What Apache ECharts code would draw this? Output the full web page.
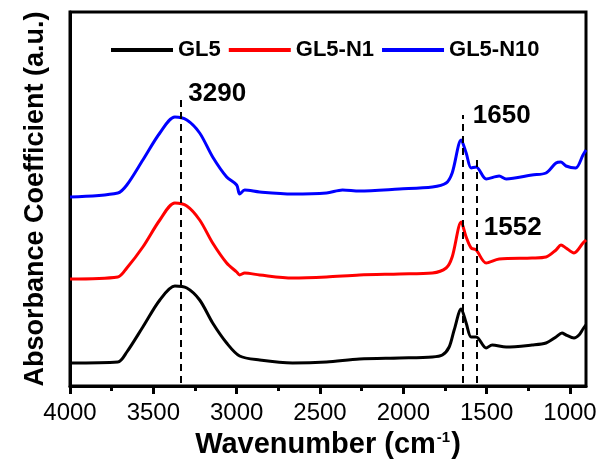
<!DOCTYPE html>
<html>
<head>
<meta charset="utf-8">
<script src="https://cdn.jsdelivr.net/npm/echarts@6/dist/echarts.min.js"></script>
<style>
  html, body { margin: 0; padding: 0; background: #fff; }
  #chart { width: 601px; height: 459px; }
</style>
</head>
<body>
<div id="chart"></div>
<script>
// wavenumber (cm-1) / absorbance (a.u., offset traces)
const gl5 = [
  [4000, 23], [3713, 24], [3659, 34], [3563, 59], [3461, 86], [3371, 100],
  [3299, 98], [3222, 86], [3144, 63], [3060, 43], [2982, 30], [2862, 26],
  [2665, 23], [2461, 24], [2263, 27], [2024, 28], [1826, 29], [1766, 31],
  [1725, 39], [1695, 56], [1653, 77], [1623, 63], [1593, 49], [1563, 49],
  [1503, 38], [1467, 41], [1383, 39], [1228, 41], [1144, 43], [1084, 49],
  [1048, 53], [1024, 51], [976, 48], [946, 51], [922, 57], [904, 61]
]
const gl5n1 = [
  [4000, 107], [3713, 109], [3659, 118], [3563, 139], [3461, 166], [3371, 183],
  [3299, 180], [3222, 166], [3144, 143], [3060, 123], [3000, 114], [2982, 111],
  [2952, 113], [2862, 111], [2665, 108], [2461, 109], [2263, 111], [2024, 112],
  [1826, 113], [1743, 118], [1707, 129], [1653, 164], [1623, 149], [1593, 138],
  [1563, 136], [1503, 123], [1425, 127], [1228, 128], [1144, 129], [1084, 136],
  [1054, 141], [1024, 138], [976, 133], [922, 143], [904, 146]
]
const gl5n10 = [
  [4000, 189], [3713, 193], [3659, 201], [3563, 226], [3461, 253], [3371, 269],
  [3299, 266], [3222, 253], [3144, 229], [3060, 209], [3000, 201], [2982, 192],
  [2952, 196], [2862, 194], [2665, 192], [2461, 193], [2365, 196], [2263, 195],
  [2024, 197], [1826, 199], [1743, 203], [1707, 213], [1653, 246], [1623, 233],
  [1593, 218], [1563, 219], [1503, 207], [1425, 210], [1383, 207], [1228, 211],
  [1144, 213], [1084, 223], [1054, 224], [1024, 220], [966, 218], [922, 231],
  [904, 236]
]

const seriesNames = ['GL5', 'GL5-N1', 'GL5-N10']
const seriesColors = ['#000000', '#ff0000', '#0000ff']

const majorTicks = [4000, 3500, 3000, 2500, 2000, 1500, 1000]
const minorTicks = [3750, 3250, 2750, 2250, 1750, 1250]

// dashed guide lines: [x, top of line]
const guideLines = [[3337, 289], [1641, 271], [1561, 229]]
// peak labels: [x, y, text]
const peakLabels = [[3290, 292, '3290'], [1583, 270, '1650'], [1517, 158, '1552']]

const chart = echarts.init(document.getElementById('chart'))

const font = 'Liberation Sans, Arial, sans-serif'

const xBase = {
  type: 'value',
  inverse: true,
  min: 904,
  max: 4000,
  splitLine: { show: false }
}

chart.setOption({
  animation: false,
  grid: {
    left: 70,
    right: 15,
    top: 12,
    bottom: 73,
    containLabel: false,
    outerBoundsMode: 'none',
    show: true,
    borderColor: '#000',
    borderWidth: 3
  },
  legend: {
    data: seriesNames,
    left: 106,
    top: 34,
    icon: 'rect',
    itemWidth: 62,
    itemHeight: 4,
    itemGap: 8,
    textStyle: { fontFamily: font, fontSize: 22, fontWeight: 'bold', color: '#000' }
  },
  xAxis: [
    Object.assign({}, xBase, {
      name: '{a|Wavenumber (cm}{s|-1}{a|)}',
      nameLocation: 'middle',
      nameGap: 35,
      nameTextStyle: {
        rich: {
          a: { fontFamily: font, fontSize: 29, fontWeight: 'bold', color: '#000' },
          s: { fontFamily: font, fontSize: 15, fontWeight: 'bold', color: '#000', padding: [0, 1, 16, 1] }
        }
      },
      axisLine: { lineStyle: { color: '#000', width: 3 } },
      axisTick: { customValues: majorTicks, length: 8, lineStyle: { width: 3, color: '#000' } },
      axisLabel: {
        customValues: majorTicks,
        formatter: v => String(v),
        margin: 15,
        fontFamily: font,
        fontSize: 24,
        color: '#000'
      }
    }),
    Object.assign({}, xBase, {
      position: 'bottom',
      axisLine: { show: false },
      axisTick: { customValues: minorTicks, length: 5, lineStyle: { width: 3, color: '#000' } },
      axisLabel: { show: false }
    })
  ],
  yAxis: {
    type: 'value',
    min: 0,
    max: 374,
    name: 'Absorbance Coefficient (a.u.)',
    nameLocation: 'middle',
    nameGap: 21,
    nameTextStyle: { fontFamily: font, fontSize: 27, fontWeight: 'bold', color: '#000' },
    axisLine: { show: true, lineStyle: { color: '#000', width: 3 } },
    axisTick: { show: false },
    axisLabel: { show: false },
    splitLine: { show: false }
  },
  series: [
    ...[gl5, gl5n1, gl5n10].map((d, i) => ({
      name: seriesNames[i],
      type: 'line',
      data: d,
      smooth: 0.3,
      showSymbol: false,
      symbol: 'none',
      color: seriesColors[i],
      lineStyle: { width: 3, color: seriesColors[i] },
      markLine: i === 0 ? {
        silent: true,
        symbol: 'none',
        label: { show: false },
        lineStyle: { color: '#000', width: 2, type: [7, 5] },
        data: guideLines.map(g => [{ coord: [g[0], 3] }, { coord: [g[0], g[1]] }])
      } : undefined
    })),
    {
      type: 'scatter',
      silent: true,
      symbolSize: 0,
      itemStyle: { color: '#000', opacity: 1 },
      data: peakLabels.map(p => ({ value: [p[0], p[1]], name: p[2] })),
      label: {
        show: true,
        position: 'right',
        distance: 0,
        formatter: p => p.name,
        fontFamily: font,
        fontSize: 26,
        fontWeight: 'bold',
        color: '#000',
        opacity: 1
      }
    }
  ]
})
</script>
</body>
</html>
